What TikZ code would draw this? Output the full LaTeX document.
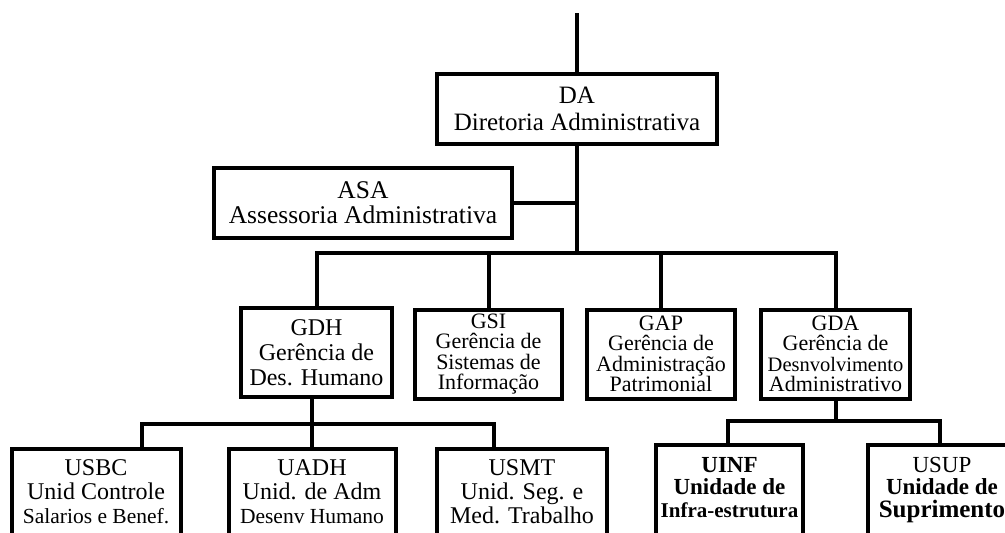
\documentclass[tikz,border=0pt]{standalone}
\usepackage{fontspec}
\setmainfont{Liberation Serif}
\newcommand{\fs}[2]{\fontsize{#1}{#2}\selectfont}
\begin{document}
\begin{tikzpicture}[x=1pt,y=-1pt,
  box/.style={draw, line width=4pt, rectangle, inner sep=0pt, align=center},
  lowbox/.style={draw, line width=4pt, rectangle, inner sep=0pt, anchor=north, minimum height=120pt},
  wire/.style={line width=4pt, line join=miter},
  lbl/.style={inner sep=0pt, align=center, anchor=north}]
\useasboundingbox (0,0) rectangle (1005,533);
\clip (0,0) rectangle (1005,533);

% top level
\node[box, minimum width=280pt, minimum height=70pt, font={\fs{25}{27}}] (da) at (577,109) {DA\\Diretoria Administrativa};
\node[box, minimum width=298pt, minimum height=70pt, font={\fs{25.5}{25}}] (asa) at (363,203) {ASA\\Assessoria Administrativa};

% second level
\node[box, minimum width=151pt, minimum height=89pt, font={\fs{24}{25}}] (gdh) at (316.5,352.5) {GDH\\Gerência de\\Des. Humano};
\node[box, minimum width=147pt, minimum height=89pt, font={\fs{22}{20.5}}] (gsi) at (488.5,354) {GSI\\Gerência de\\Sistemas de\\Informação};
\node[box, minimum width=148pt, minimum height=89pt, font={\fs{22}{20.5}}] (gap) at (661,354) {GAP\\Gerência de\\Administração\\Patrimonial};
\node[box, minimum width=149pt, minimum height=89pt, font={\fs{22}{20.5}}] (gda) at (835.5,354) {GDA\\Gerência de\\{\fs{20.5}{20.5}Desnvolvimento}\\{\fs{22}{20.5}Administrativo}};

% third level (boxes run past the lower edge)
\node[lowbox, minimum width=169pt] (usbc) at (96,447) {};
\node[lowbox, minimum width=167pt] (uadh) at (312,447) {};
\node[lowbox, minimum width=170pt] (usmt) at (522,447) {};
\node[lowbox, minimum width=147pt] (uinf) at (729.5,443) {};
\node[lowbox, minimum width=144pt] (usup) at (940,443) {};

\node[lbl, font={\fs{24}{24}}] (usbcT) at (96,459) {USBC\\Unid Controle\\{\fs{21.5}{23}Salarios e Benef.}};
\node[lbl, font={\fs{24}{24}}] (uadhT) at (312,459) {UADH\\Unid. de Adm\\{\fs{21.5}{23}Desenv Humano}};
\node[lbl, font={\fs{24}{24}}] (usmtT) at (522,459) {USMT\\Unid. Seg. e\\Med. Trabalho};
\node[lbl, font={\bfseries\fs{23}{22.5}}] (uinfT) at (729.5,457) {UINF\\Unidade de\\{\fs{21}{22.5}Infra-estrutura}};
\node[lbl, font={\bfseries\fs{23}{22.5}}] (usupT) at (942,457) {{\mdseries USUP}\\Unidade de\\{\fs{25}{22.5}Suprimento}};

% connectors
\coordinate (top) at (577,13);
\coordinate (bus) at (577,253);
\coordinate (lb) at (142,424);
\coordinate (rb) at (494,424);
\coordinate (lr) at (728,421);
\coordinate (rr) at (940,421);

\draw[wire] (top) -- (da.north);
\draw[wire] (da.south) -- (bus);
\draw[wire] (asa.east) -- (asa.east -| bus);
\draw[wire] (gdh.north) -- (gdh.north |- bus) -- (gda.north |- bus) -- (gda.north);
\draw[wire] (gsi.north) -- (gsi.north |- bus);
\draw[wire] (gap.north) -- (gap.north |- bus);

\draw[wire] (gdh.south -| uadh.north) -- (uadh.north);
\draw[wire] (usbc.north -| lb) -- (lb) -- (rb) -- (usmt.north -| rb);

\draw[wire] (gda.south) -- (gda.south |- lr);
\draw[wire] (uinf.north -| lr) -- (lr) -- (rr) -- (usup.north -| rr);
\end{tikzpicture}
\end{document}
